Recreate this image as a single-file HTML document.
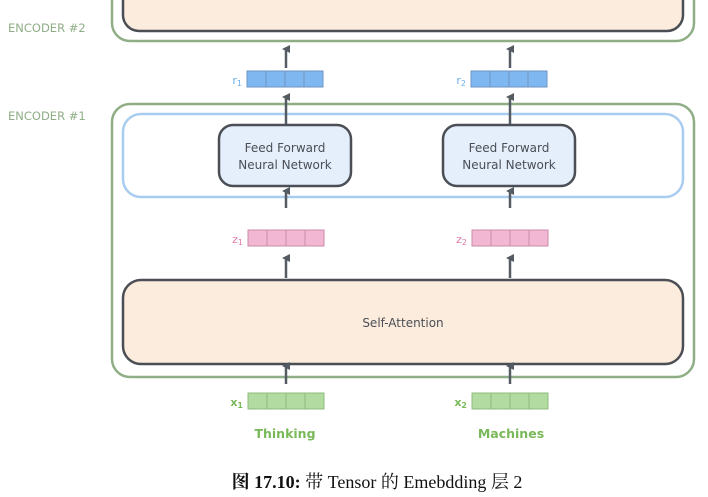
<!DOCTYPE html>
<html><head><meta charset="utf-8"><style>
html,body{margin:0;padding:0;background:#fff;width:708px;height:497px;overflow:hidden}
text{font-family:"DejaVu Sans","Liberation Sans","Noto Sans CJK SC",sans-serif}
</style></head><body>
<svg width="708" height="497" viewBox="0 0 708 497" xmlns="http://www.w3.org/2000/svg">
<defs>
<marker id="ah" markerWidth="8" markerHeight="8" refX="4" refY="4" orient="auto" markerUnits="userSpaceOnUse">
<path d="M0,8 L4,0 L8,8 Z" fill="#555b63"/></marker>
</defs>
<rect x="112" y="-40" width="582" height="81" rx="18" fill="none" stroke="#8fae86" stroke-width="2.5"/>
<rect x="123" y="-40" width="560" height="71" rx="16" fill="#fbecdd" stroke="#4b4f55" stroke-width="2.5"/>
<text x="8" y="32" font-size="11.5" fill="#8fae86">ENCODER #2</text>
<text x="8" y="120" font-size="11.5" fill="#8fae86">ENCODER #1</text>
<rect x="112" y="104" width="582" height="273" rx="18" fill="none" stroke="#8fae86" stroke-width="2.5"/>
<rect x="123" y="114" width="560" height="83" rx="18" fill="none" stroke="#a9cdf0" stroke-width="2.5"/>
<rect x="219" y="125" width="132" height="61" rx="14" fill="#e5eefb" stroke="#4b4f55" stroke-width="2.5"/>
<rect x="443" y="125" width="132" height="61" rx="14" fill="#e5eefb" stroke="#4b4f55" stroke-width="2.5"/>
<text x="285" y="152" font-size="12" fill="#4b4f55" text-anchor="middle">Feed Forward</text>
<text x="285" y="169" font-size="12" fill="#4b4f55" text-anchor="middle">Neural Network</text>
<text x="509" y="152" font-size="12" fill="#4b4f55" text-anchor="middle">Feed Forward</text>
<text x="509" y="169" font-size="12" fill="#4b4f55" text-anchor="middle">Neural Network</text>
<rect x="123" y="280" width="560" height="84" rx="18" fill="#fbecdd" stroke="#4b4f55" stroke-width="2.5"/>
<text x="403" y="327" font-size="12" fill="#4b4f55" text-anchor="middle">Self-Attention</text>
<g stroke="#6f93c0" stroke-width="1" fill="#7fb8f0">
<rect x="247" y="71" width="76" height="16"/><rect x="471" y="71" width="76" height="16"/></g>
<g stroke="#6f93c0"><path d="M266,71v16M285,71v16M304,71v16M490,71v16M509,71v16M528,71v16"/></g>
<g stroke="#c98aa8" fill="#f2b8d3">
<rect x="248" y="230" width="76" height="16"/><rect x="472" y="230" width="76" height="16"/></g>
<g stroke="#c98aa8"><path d="M267,230v16M286,230v16M305,230v16M491,230v16M510,230v16M529,230v16"/></g>
<g stroke="#8cbc7c" fill="#b2dba1">
<rect x="248" y="393" width="76" height="16"/><rect x="472" y="393" width="76" height="16"/></g>
<g stroke="#8cbc7c"><path d="M267,393v16M286,393v16M305,393v16M491,393v16M510,393v16M529,393v16"/></g>
<text x="242" y="84" font-size="11" fill="#6aaee8" text-anchor="end">r<tspan font-size="8" dy="2">1</tspan></text>
<text x="466" y="84" font-size="11" fill="#6aaee8" text-anchor="end">r<tspan font-size="8" dy="2">2</tspan></text>
<text x="243" y="243" font-size="11" fill="#e07aa8" text-anchor="end">z<tspan font-size="8" dy="2">1</tspan></text>
<text x="467" y="243" font-size="11" fill="#e07aa8" text-anchor="end">z<tspan font-size="8" dy="2">2</tspan></text>
<text x="243" y="406" font-size="11" fill="#79b959" text-anchor="end" font-weight="bold">x<tspan font-size="8" dy="2">1</tspan></text>
<text x="467" y="406" font-size="11" fill="#79b959" text-anchor="end" font-weight="bold">x<tspan font-size="8" dy="2">2</tspan></text>
<text x="285" y="438" font-size="12.5" fill="#79b959" text-anchor="middle" font-weight="bold">Thinking</text>
<text x="511" y="438" font-size="12.5" fill="#79b959" text-anchor="middle" font-weight="bold">Machines</text>
<g stroke="#555b63" stroke-width="2.5" marker-end="url(#ah)">
<path d="M286,68V49"/><path d="M510,68V49"/>
<path d="M286,124V97"/><path d="M510,124V97"/>
<path d="M286,208V191"/><path d="M510,208V191"/>
<path d="M286,278V258"/><path d="M510,278V258"/>
<path d="M286,384V366"/><path d="M510,384V366"/>
</g>
<text x="377" y="488" font-size="18" fill="#111" text-anchor="middle" style="font-family:'Liberation Serif','Noto Serif CJK SC',serif"><tspan font-weight="bold">图 17.10:</tspan> 带 Tensor 的 Emebdding 层 2</text>
</svg>
</body></html>
